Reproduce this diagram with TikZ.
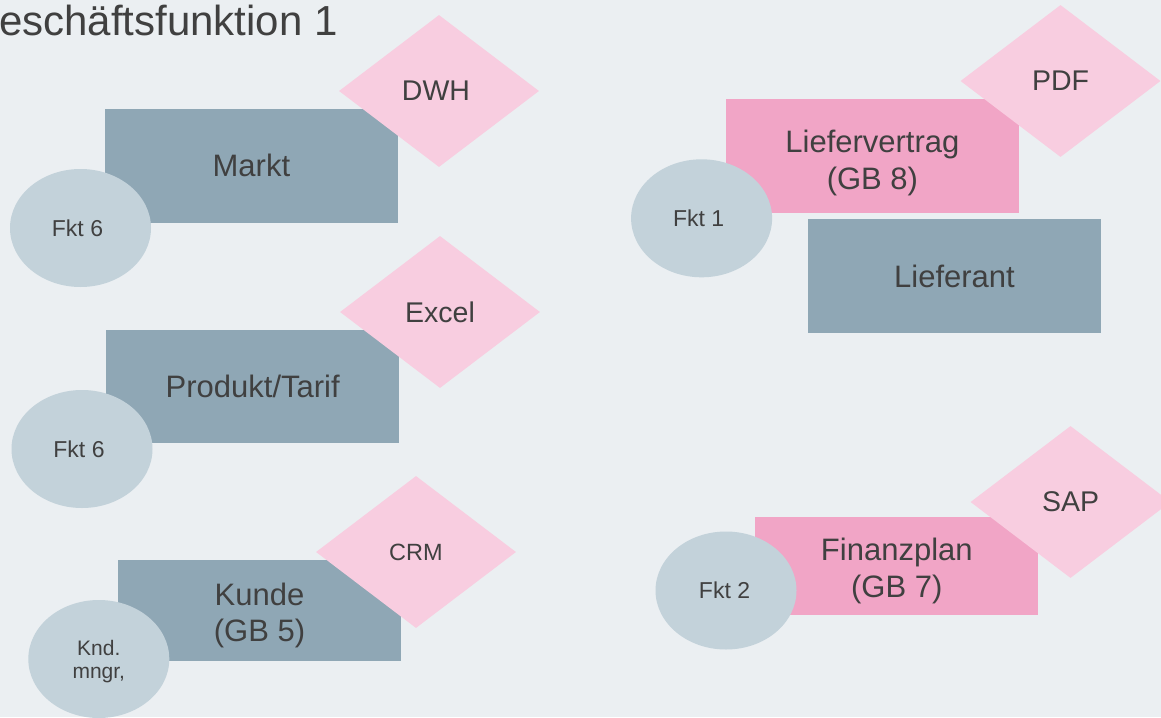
\documentclass[tikz,border=0pt]{standalone}
\usepackage{fontspec}
\setmainfont{Liberation Sans}
\usetikzlibrary{shapes.geometric}
\definecolor{bgcol}{HTML}{EBEFF2}
\definecolor{rectcol}{HTML}{8FA7B5}
\definecolor{ellcol}{HTML}{C3D2DA}
\definecolor{diacol}{HTML}{F8CDE0}
\definecolor{pinkcol}{HTML}{F1A5C6}
\definecolor{txtcol}{HTML}{404040}
\newcommand{\boxtopstrut}{\rule{0pt}{32pt}}
\newcommand{\tallboxstrut}{\rule{0pt}{36pt}}
\newcommand{\elltopstrut}{\rule{0pt}{21pt}}
\tikzset{
  entity/.style={rectangle, fill=rectcol, draw=none, inner sep=0pt, text=txtcol, align=center,
    font=\fontsize{31}{36.5}\selectfont, minimum width=293.5pt, minimum height=113.5pt},
  pinkbox/.style={entity, fill=pinkcol},
  func/.style={ellipse, fill=ellcol, draw=none, inner sep=0pt, text=txtcol, align=center,
    font=\fontsize{23}{23}\selectfont, minimum width=141pt, minimum height=118pt},
  system/.style={diamond, fill=diacol, draw=none, inner sep=0pt, text=txtcol,
    font=\fontsize{28.5}{30}\selectfont, minimum width=200pt, minimum height=152pt},
}
\begin{document}
\begin{tikzpicture}[x=1pt,y=-1pt]
\fill[bgcol] (0,0) rectangle (1161,717);
\useasboundingbox (0,0) rectangle (1161,717);

\node[anchor=base west, inner sep=0pt, text=txtcol, font=\fontsize{42}{46}\selectfont] (title) at (-1,36) {eschäftsfunktion 1};

% entity boxes
\node[entity] (markt) at (251.4,165.9) {\raisebox{1.5pt}{Markt}};
\node[entity] (produkt) at (252.7,386.7) {Produkt/Tarif};
\node[entity, minimum width=283pt, minimum height=101pt] (kunde) at (259.5,610.7) {\boxtopstrut Kunde\\(GB 5)};
\node[pinkbox] (liefervertrag) at (872.4,156) {\tallboxstrut Liefervertrag\\(GB 8)};
\node[entity] (lieferant) at (954.5,276.2) {Lieferant};
\node[pinkbox, minimum width=283pt, minimum height=98pt] (finanzplan) at (896.8,566) {\boxtopstrut Finanzplan\\(GB 7)};

% functions
\node[func] (fkt6a) at (80.5,228) {\hspace*{-6pt}Fkt 6};
\node[func] (fkt6b) at (82,449) {\hspace*{-6pt}Fkt 6};
\node[func, font=\fontsize{21}{23}\selectfont] (knd) at (98.8,659) {\elltopstrut Knd.\\mngr,};
\node[func] (fkt1) at (701.6,218.3) {\hspace*{-6pt}Fkt 1};
\node[func] (fkt2) at (726,590.5) {\hspace*{-3pt}Fkt 2};

% systems
\node[system] (dwh) at (439,91) {\hspace*{-6pt}DWH};
\node[system] (excel) at (440,312) {Excel};
\node[system, font=\fontsize{23.5}{25}\selectfont] (crm) at (416,552) {CRM};
\node[system] (pdf) at (1060.5,81) {PDF};
\node[system] (sap) at (1070.5,502) {SAP};
\end{tikzpicture}
\end{document}
